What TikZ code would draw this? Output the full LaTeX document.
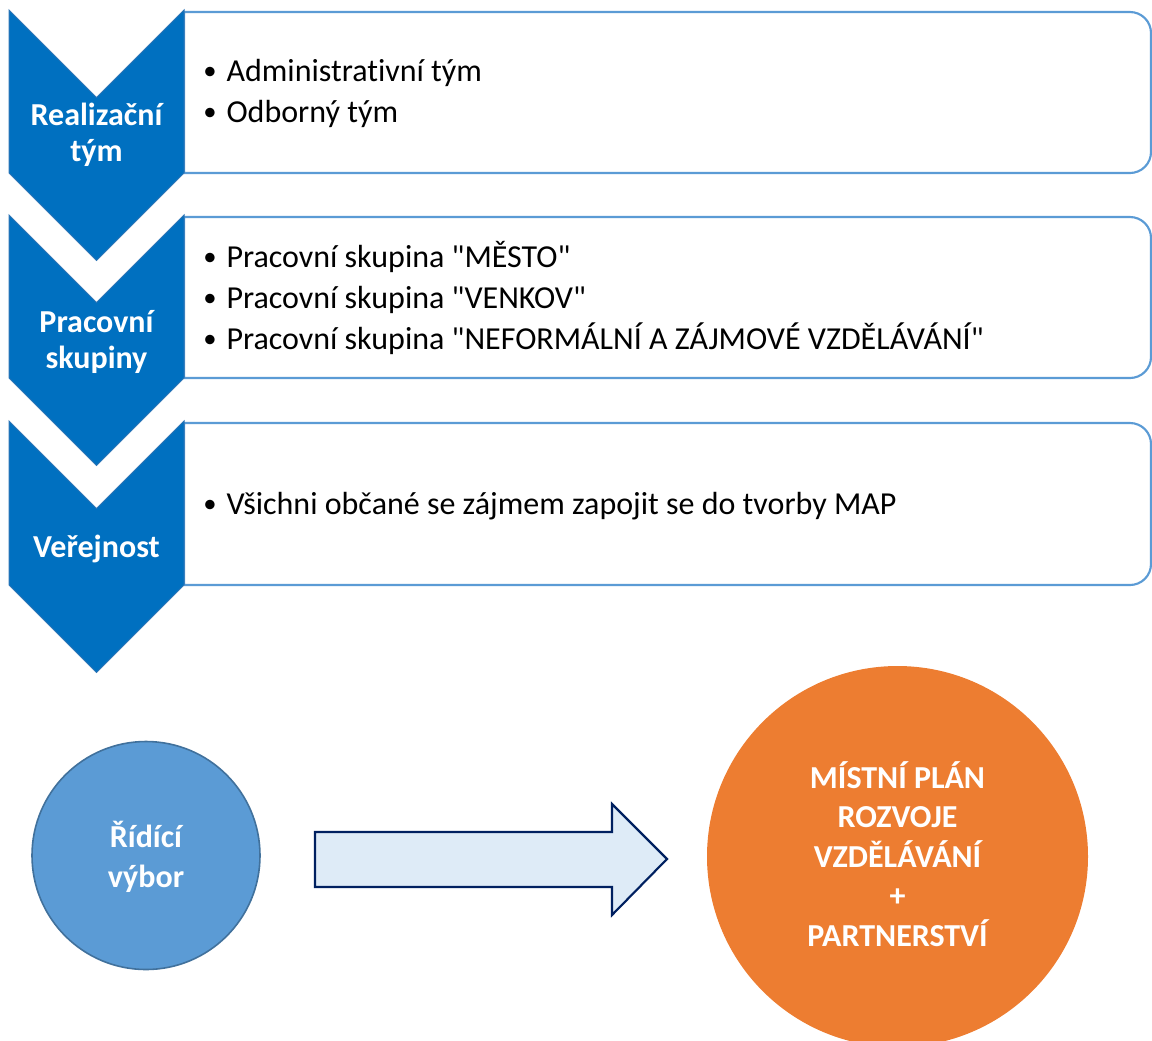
\documentclass[tikz,border=0pt]{standalone}
\usepackage{fontspec}
\setmainfont{Carlito}[Ligatures=NoCommon]
\usepackage{xcolor}
\usetikzlibrary{positioning}
\definecolor{chevblue}{RGB}{0,112,192}
\definecolor{chevedge}{RGB}{46,117,182}
\definecolor{boxedge}{RGB}{91,155,213}
\definecolor{ringfill}{RGB}{91,155,213}
\definecolor{ringedge}{RGB}{65,113,156}
\definecolor{arrowfill}{RGB}{222,235,247}
\definecolor{arrowedge}{RGB}{0,32,96}
\definecolor{planorange}{RGB}{237,125,49}
\tikzset{
        chevron/.style = {fill=chevblue, draw=chevedge, line width=0.75pt},
        listbox/.style = {draw=boxedge, line width=1.6pt, fill=white},
        headtext/.style = {text=white, font=\bfseries\fontsize{24}{26.3}\selectfont, align=center, inner sep=0.75pt},
        itemtext/.style = {anchor=base west, font=\fontsize{24}{30.75}\selectfont, align=left, inner sep=0.75pt},
        ring/.style = {circle, fill=ringfill, draw=ringedge, line width=1.2pt, minimum size=228*0.75pt},
        bigring/.style = {circle, fill=planorange, draw=none, minimum size=381*0.75pt},
        blockarrow/.style = {fill=arrowfill, draw=arrowedge, line width=1.6pt, line join=miter},
    }
\newcommand{\itm}{\raisebox{1pt}{\fontsize{20}{20}\selectfont\textbullet}\hspace{7.5pt}}

\begin{document}
\begin{tikzpicture}[x=0.75pt,y=0.75pt,yscale=-1,xscale=1]
    \useasboundingbox (0,0) rectangle (1152,1040);

    % Boxes
    \draw [listbox] (184,12) -- (1130,12) arc (-90:0:21) -- (1151,152) arc (0:90:21) -- (184,173) -- cycle ;
    \draw [listbox] (184,217) -- (1130,217) arc (-90:0:21) -- (1151,357) arc (0:90:21) -- (184,378) -- cycle ;
    \draw [listbox] (184,423) -- (1130,423) arc (-90:0:21) -- (1151,564) arc (0:90:21) -- (184,585) -- cycle ;

    % Chevrons
    \draw [chevron] (9,10) -- (96.5,97.5) -- (184,10) -- (184,173) -- (96.5,260.5) -- (9,173) -- cycle ;
    \draw [chevron] (9,215) -- (96.5,302.5) -- (184,215) -- (184,378) -- (96.5,465.5) -- (9,378) -- cycle ;
    \draw [chevron] (9,421) -- (96.5,508.5) -- (184,421) -- (184,585) -- (96.5,672.5) -- (9,585) -- cycle ;

    % Text Node
    \node (realiz) [headtext, anchor=base] at (96.5,161) {Realizační\\tým};
    \node (prac) [headtext, anchor=base] at (96.5,368) {Pracovní\\skupiny};
    \node (verej) [headtext, anchor=base] at (96.5,557) {Veřejnost};

    % Text Node
    \node (realizitems) [itemtext] at (202,122) {\itm Administrativní tým\\\itm Odborný tým};
    \node (pracitems) [itemtext] at (202,349) {\itm Pracovní skupina \textquotedbl MĚSTO\textquotedbl\\\itm Pracovní skupina \textquotedbl VENKOV\textquotedbl\\\itm Pracovní skupina \textquotedbl NEFORMÁLNÍ A ZÁJMOVÉ VZDĚLÁVÁNÍ\textquotedbl};
    \node (verejitems) [itemtext] at (202,514) {\itm Všichni občané se zájmem zapojit se do tvorby MAP};

    % Circles
    \node (vybor) [ring] at (146,855.5) {};
    \node (vybortext) [headtext, anchor=base, font=\bfseries\fontsize{24}{29.3}\selectfont] at (146,887) {Řídící\\výbor};
    \node (plan) [bigring] at (897.5,856.5) {};
    \node (plantext) [headtext, anchor=base, font=\bfseries\fontsize{24}{29.6}\selectfont] at (897.5,946) {MÍSTNÍ PLÁN\\ROZVOJE\\VZDĚLÁVÁNÍ\\+\\PARTNERSTVÍ};

    % Block arrow
    \draw [blockarrow] (315,832) -- (612,832) -- (612,804) -- (667,859) -- (612,915) -- (612,887) -- (315,887) -- cycle ;

\end{tikzpicture}
\end{document}
